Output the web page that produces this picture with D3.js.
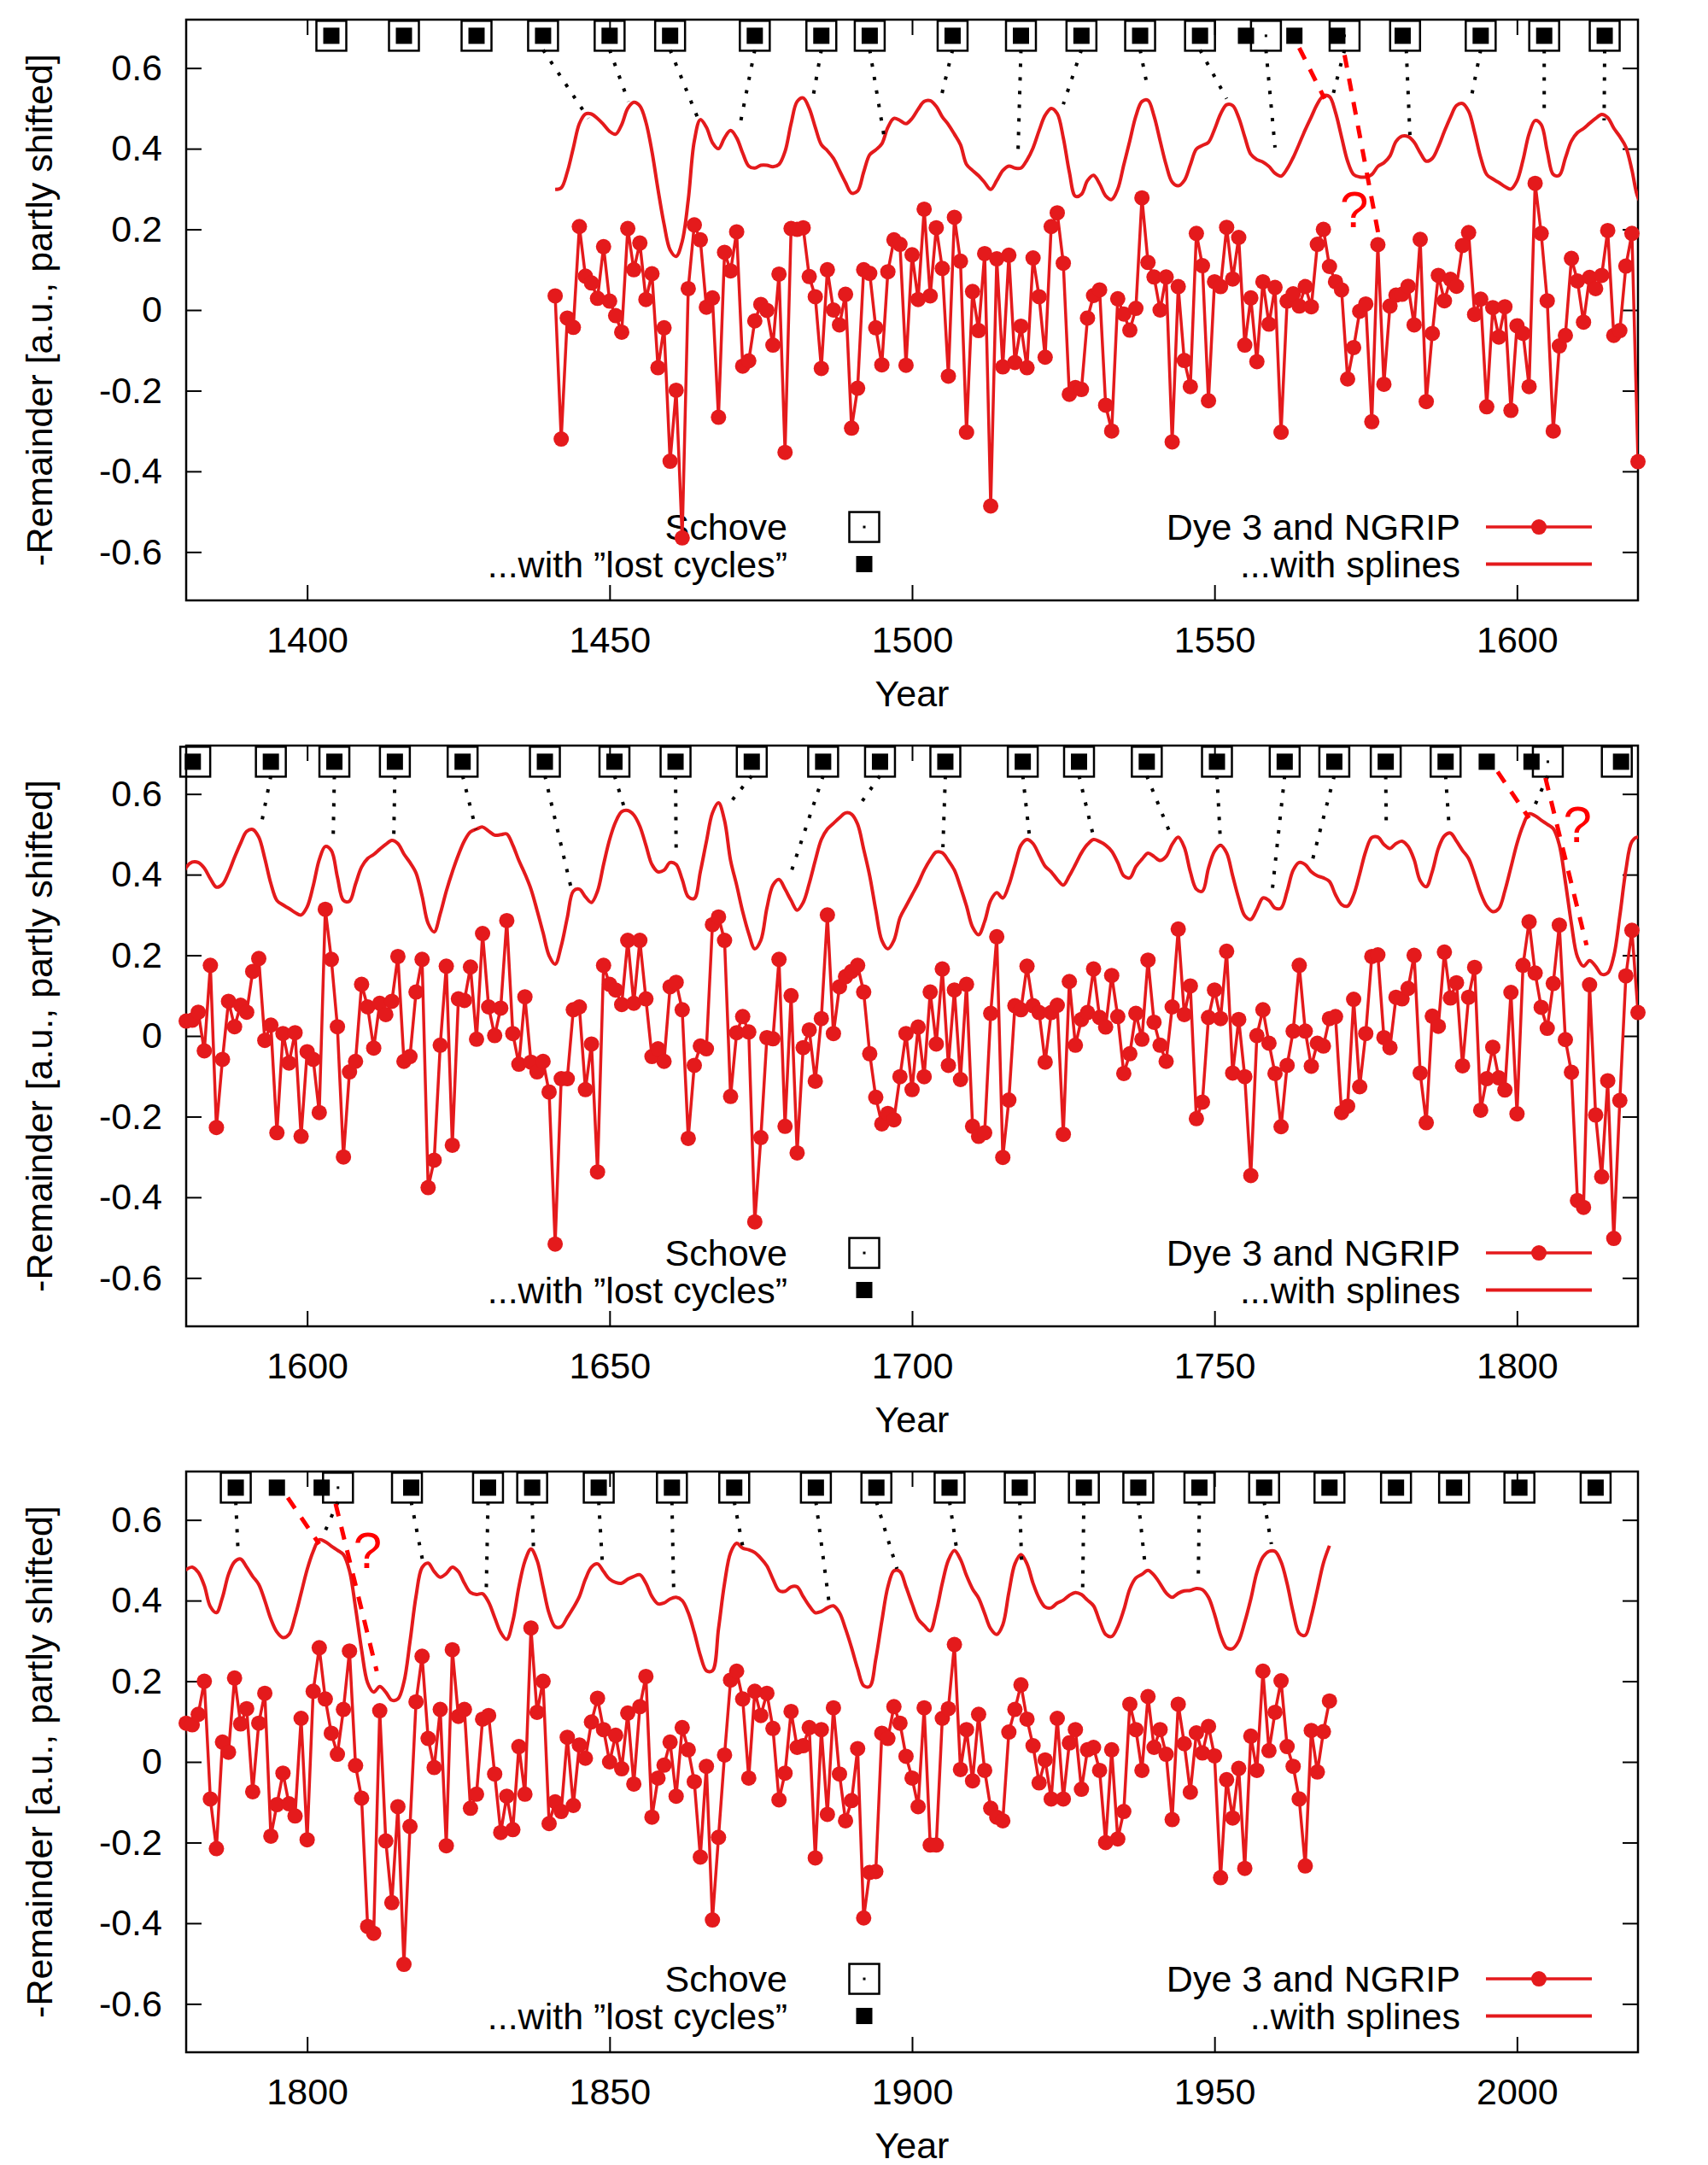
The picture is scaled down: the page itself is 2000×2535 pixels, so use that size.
<!DOCTYPE html>
<html>
<head>
<meta charset="utf-8">
<script src="https://cdn.jsdelivr.net/npm/d3@7"></script>
<style>
  body { margin: 0; background: #fff; }
  svg text { font-family: "Liberation Sans", Arial, Helvetica, sans-serif; }
</style>
</head>
<body>
<div id="chart"></div>
<script>
// yearly values, first value belongs to firstYear
var firstYear = 1441;

// Dye 3 and NGRIP remainder
var remainder = [
  0.035, -0.32, -0.02, -0.043, 0.207, 0.084, 0.067, 0.029, 0.157, 0.022,     // 1441-
  -0.014, -0.055, 0.202, 0.10, 0.166, 0.026, 0.09, -0.143, -0.044, -0.375,   // 1451-
  -0.199, -0.565, 0.053, 0.211, 0.174, 0.007, 0.030, -0.266, 0.143, 0.097,   // 1461-
  0.194, -0.139, -0.126, -0.027, 0.014, -0.001, -0.087, 0.089, -0.353, 0.202,// 1471-
  0.20, 0.204, 0.083, 0.033, -0.145, 0.10, 0.0, -0.037, 0.039, -0.293,       // 1481-
  -0.194, 0.10, 0.091, -0.044, -0.136, 0.095, 0.174, 0.163, -0.137, 0.137,   // 1491-
  0.026, 0.25, 0.035, 0.204, 0.103, -0.164, 0.23, 0.121, -0.303, 0.046,      // 1501-
  -0.051, 0.14, -0.486, 0.127, -0.141, 0.136, -0.13, -0.04, -0.143, 0.129,   // 1511-
  0.033, -0.117, 0.207, 0.241, 0.116, -0.209, -0.192, -0.197, -0.02, 0.036,  // 1521-
  0.05, -0.236, -0.30, 0.028, -0.01, -0.05, 0.004, 0.278, 0.118, 0.082,      // 1531-
  0.0, 0.082, -0.327, 0.058, -0.125, -0.19, 0.19, 0.11, -0.225, 0.07,        // 1541-
  0.058, 0.205, 0.077, 0.18, -0.087, 0.03, -0.128, 0.07, -0.035, 0.056,      // 1551-
  -0.303, 0.022, 0.04, 0.01, 0.058, 0.008, 0.163, 0.2, 0.108, 0.07,          // 1561-
  0.05, -0.171, -0.093, -0.003, 0.015, -0.277, 0.162, -0.184, 0.01, 0.037,   // 1571-
  0.039, 0.059, -0.037, 0.175, -0.227, -0.058, 0.086, 0.023, 0.076, 0.059,   // 1581-
  0.16, 0.192, -0.011, 0.027, -0.24, 0.006, -0.067, 0.008, -0.249, -0.039,   // 1591-
  -0.058, -0.19, 0.314, 0.19, 0.023, -0.30, -0.089, -0.063, 0.128, 0.072,    // 1601-
  -0.03, 0.081, 0.053, 0.086, 0.197, -0.063, -0.051, 0.109, 0.19, -0.376,    // 1611-
  -0.308, -0.023, 0.173, -0.271, 0.092, 0.088, 0.171, -0.008, 0.254, 0.072,  // 1621-
  0.001, 0.069, 0.286, 0.006, -0.07, 0.097, -0.065, -0.089, -0.063, -0.139,  // 1631-
  -0.516, -0.106, -0.106, 0.065, 0.072, -0.133, -0.02, -0.337, 0.175, 0.128, // 1641-
  0.114, 0.078, 0.237, 0.081, 0.237, 0.092, -0.051, -0.032, -0.063, 0.122,   // 1651-
  0.133, 0.065, -0.254, -0.073, -0.025, -0.032, 0.276, 0.295, 0.237, -0.15,  // 1661-
  0.008, 0.048, 0.01, -0.461, -0.252, -0.004, -0.007, 0.19, -0.224, 0.10,    // 1671-
  -0.29, -0.029, 0.015, -0.112, 0.043, 0.30, 0.006, 0.122, 0.147, 0.16,      // 1681-
  0.175, 0.109, -0.044, -0.152, -0.218, -0.192, -0.208, -0.101, 0.006, -0.133, // 1691-
  0.022, -0.101, 0.109, -0.02, 0.166, -0.073, 0.114, -0.108, 0.128, -0.224,  // 1701-
  -0.249, -0.24, 0.056, 0.246, -0.301, -0.159, 0.075, 0.065, 0.173, 0.075,   // 1711-
  0.058, -0.065, 0.058, 0.076, -0.244, 0.135, -0.023, 0.041, 0.058, 0.166,   // 1721-
  0.046, 0.022, 0.15, 0.048, -0.093, -0.044, 0.056, -0.008, 0.188, 0.034,    // 1731-
  -0.023, -0.063, 0.072, 0.265, 0.053, 0.124, -0.205, -0.164, 0.046, 0.114,  // 1741-
  0.043, 0.21, -0.092, 0.041, -0.101, -0.346, 0.001, 0.065, -0.018, -0.093,  // 1751-
  -0.225, -0.073, 0.012, 0.175, 0.012, -0.075, -0.018, -0.025, 0.043, 0.048, // 1761-
  -0.19, -0.174, 0.091, -0.126, 0.006, 0.197, 0.201, -0.004, -0.029, 0.096,  // 1771-
  0.092, 0.118, 0.20, -0.092, -0.215, 0.049, 0.024, 0.208, 0.094, 0.132,     // 1781-
  -0.074, 0.096, 0.17, -0.184, -0.106, -0.028, -0.104, -0.134, 0.108, -0.193,// 1791-
  0.175, 0.283, 0.156, 0.071, 0.019, 0.13, 0.275, -0.009, -0.09, -0.408,     // 1801-
  -0.425, 0.127, -0.196, -0.349, -0.111, -0.502, -0.16, 0.149, 0.262, 0.058, // 1811-
  -0.014, 0.13, -0.208, 0.278, 0.113, 0.13, -0.115, -0.08, 0.106, 0.115,     // 1821-
  -0.03, -0.175, -0.085, -0.168, 0.038, -0.08, 0.332, 0.123, 0.20, -0.153,   // 1831-
  -0.099, -0.123, 0.061, -0.108, 0.042, 0.009, 0.099, 0.158, 0.08, 0.0,      // 1841-
  0.066, -0.017, 0.121, -0.055, 0.137, 0.212, -0.137, -0.04, -0.008, 0.049,  // 1851-
  -0.085, 0.085, 0.03, -0.049, -0.236, -0.011, -0.392, -0.187, 0.017, 0.203, // 1861-
  0.225, 0.156, -0.04, 0.175, 0.115, 0.17, 0.083, -0.094, -0.028, 0.125,     // 1871-
  0.036, 0.04, 0.085, -0.238, 0.08, -0.13, 0.134, -0.03, -0.146, -0.096,     // 1881-
  0.033, -0.387, -0.274, -0.272, 0.071, 0.058, 0.137, 0.096, 0.014, -0.04,   // 1891-
  -0.111, 0.134, -0.206, -0.206, 0.108, 0.132, 0.291, -0.019, 0.08, -0.047,  // 1901-
  0.118, -0.021, -0.115, -0.137, -0.146, 0.074, 0.13, 0.191, 0.106, 0.04,    // 1911-
  -0.052, 0.005, -0.092, 0.108, -0.092, 0.047, 0.08, -0.068, 0.03, 0.036,    // 1921-
  -0.021, -0.20, 0.03, -0.191, -0.123, 0.143, 0.08, -0.021, 0.162, 0.036,    // 1931-
  0.08, 0.019, -0.143, 0.143, 0.045, -0.075, 0.072, 0.022, 0.088, 0.015,     // 1941-
  -0.287, -0.044, -0.139, -0.016, -0.264, 0.064, -0.021, 0.225, 0.028, 0.123,// 1951-
  0.201, 0.038, -0.011, -0.092, -0.258, 0.078, -0.025, 0.075, 0.151          // 1961-1969
];

// smoothed curve, shifted upwards
var splines = [
  0.299, 0.303, 0.342, 0.402, 0.462, 0.486, 0.486, 0.475, 0.46, 0.443,   // 1441-
  0.436, 0.46, 0.50, 0.515, 0.506, 0.466, 0.393, 0.299, 0.213, 0.149,    // 1451-
  0.133, 0.17, 0.273, 0.419, 0.472, 0.453, 0.415, 0.40, 0.427, 0.445,    // 1461-
  0.427, 0.389, 0.357, 0.352, 0.359, 0.359, 0.355, 0.361, 0.393, 0.462,  // 1471-
  0.517, 0.526, 0.50, 0.453, 0.41, 0.395, 0.376, 0.346, 0.316, 0.29,     // 1481-
  0.295, 0.342, 0.385, 0.397, 0.412, 0.453, 0.475, 0.47, 0.462, 0.475,   // 1491-
  0.498, 0.517, 0.519, 0.505, 0.479, 0.46, 0.436, 0.41, 0.361, 0.346,    // 1501-
  0.333, 0.316, 0.299, 0.321, 0.346, 0.357, 0.352, 0.352, 0.372, 0.402,  // 1511-
  0.445, 0.483, 0.50, 0.487, 0.427, 0.342, 0.282, 0.287, 0.321, 0.334,   // 1521-
  0.313, 0.283, 0.274, 0.30, 0.36, 0.42, 0.481, 0.517, 0.52, 0.481,      // 1531-
  0.42, 0.36, 0.317, 0.308, 0.321, 0.36, 0.399, 0.408, 0.416, 0.448,     // 1541-
  0.486, 0.509, 0.507, 0.477, 0.429, 0.386, 0.373, 0.367, 0.356, 0.339,  // 1551-
  0.332, 0.35, 0.378, 0.412, 0.447, 0.479, 0.511, 0.531, 0.529, 0.49,    // 1561-
  0.429, 0.369, 0.336, 0.33, 0.33, 0.336, 0.356, 0.365, 0.382, 0.418,    // 1571-
  0.431, 0.43, 0.416, 0.39, 0.369, 0.376, 0.405, 0.443, 0.478, 0.507,    // 1581-
  0.512, 0.493, 0.44, 0.378, 0.336, 0.325, 0.316, 0.306, 0.30, 0.32,     // 1591-
  0.372, 0.437, 0.47, 0.46, 0.394, 0.336, 0.334, 0.377, 0.419, 0.44,     // 1601-
  0.45, 0.463, 0.475, 0.485, 0.477, 0.451, 0.43, 0.404, 0.347, 0.279,    // 1611-
  0.258, 0.303, 0.359, 0.407, 0.449, 0.484, 0.506, 0.513, 0.518, 0.508,  // 1621-
  0.498, 0.499, 0.501, 0.473, 0.435, 0.402, 0.364, 0.312, 0.256, 0.199,  // 1631-
  0.178, 0.223, 0.293, 0.359, 0.364, 0.345, 0.331, 0.359, 0.425, 0.487,  // 1641-
  0.531, 0.556, 0.559, 0.548, 0.52, 0.473, 0.425, 0.407, 0.411, 0.43,    // 1651-
  0.425, 0.388, 0.345, 0.341, 0.407, 0.482, 0.553, 0.578, 0.534, 0.435,  // 1661-
  0.374, 0.308, 0.254, 0.216, 0.237, 0.317, 0.374, 0.388, 0.364, 0.336,  // 1671-
  0.312, 0.331, 0.378, 0.435, 0.487, 0.513, 0.527, 0.541, 0.553, 0.55,   // 1681-
  0.525, 0.463, 0.397, 0.312, 0.237, 0.216, 0.237, 0.293, 0.322, 0.35,   // 1691-
  0.378, 0.411, 0.437, 0.456, 0.454, 0.435, 0.411, 0.369, 0.322, 0.27,   // 1701-
  0.251, 0.284, 0.336, 0.355, 0.342, 0.374, 0.425, 0.473, 0.487, 0.477,  // 1711-
  0.449, 0.421, 0.407, 0.388, 0.374, 0.397, 0.425, 0.454, 0.475, 0.487,  // 1721-
  0.482, 0.473, 0.458, 0.43, 0.397, 0.392, 0.42, 0.438, 0.453, 0.445,    // 1731-
  0.435, 0.445, 0.475, 0.493, 0.468, 0.407, 0.364, 0.359, 0.416, 0.458,  // 1741-
  0.473, 0.454, 0.397, 0.341, 0.298, 0.289, 0.314, 0.342, 0.336, 0.317,  // 1751-
  0.317, 0.359, 0.411, 0.43, 0.425, 0.407, 0.397, 0.392, 0.383, 0.35,    // 1761-
  0.326, 0.322, 0.35, 0.402, 0.458, 0.492, 0.493, 0.475, 0.465, 0.477,   // 1771-
  0.483, 0.47, 0.437, 0.385, 0.37, 0.408, 0.465, 0.496, 0.503, 0.483,    // 1781-
  0.46, 0.44, 0.40, 0.354, 0.322, 0.308, 0.316, 0.36, 0.418, 0.477,      // 1791-
  0.522, 0.551, 0.546, 0.535, 0.525, 0.514, 0.474, 0.382, 0.278, 0.196,  // 1801-
  0.173, 0.187, 0.173, 0.153, 0.156, 0.198, 0.298, 0.411, 0.482, 0.493,  // 1811-
  0.472, 0.458, 0.467, 0.483, 0.472, 0.443, 0.42, 0.415, 0.417, 0.396,   // 1821-
  0.358, 0.321, 0.304, 0.349, 0.434, 0.498, 0.528, 0.50, 0.434, 0.368,   // 1831-
  0.335, 0.335, 0.358, 0.382, 0.41, 0.453, 0.483, 0.491, 0.472, 0.453,   // 1841-
  0.445, 0.443, 0.453, 0.46, 0.464, 0.443, 0.41, 0.392, 0.394, 0.404,    // 1851-
  0.408, 0.40, 0.37, 0.321, 0.264, 0.226, 0.226, 0.33, 0.443, 0.519,     // 1861-
  0.542, 0.53, 0.526, 0.519, 0.505, 0.486, 0.453, 0.425, 0.423, 0.434,   // 1871-
  0.434, 0.41, 0.387, 0.37, 0.373, 0.382, 0.387, 0.37, 0.33, 0.283,      // 1881-
  0.231, 0.189, 0.187, 0.255, 0.349, 0.434, 0.474, 0.472, 0.434, 0.392,  // 1891-
  0.354, 0.338, 0.325, 0.373, 0.443, 0.50, 0.524, 0.502, 0.462, 0.429,   // 1901-
  0.406, 0.368, 0.33, 0.316, 0.34, 0.42, 0.491, 0.514, 0.491, 0.443,     // 1911-
  0.406, 0.384, 0.382, 0.394, 0.401, 0.413, 0.42, 0.415, 0.401, 0.387,   // 1921-
  0.349, 0.316, 0.311, 0.335, 0.377, 0.429, 0.456, 0.465, 0.475, 0.463,  // 1931-
  0.442, 0.419, 0.408, 0.418, 0.424, 0.425, 0.43, 0.427, 0.408, 0.366,   // 1941-
  0.314, 0.283, 0.281, 0.30, 0.347, 0.404, 0.47, 0.508, 0.522, 0.522,    // 1951-
  0.496, 0.442, 0.371, 0.319, 0.314, 0.361, 0.427, 0.493, 0.536          // 1961-1969
];

// Schove maxima (open squares) and the version with "lost cycles" (filled squares)
var schove = [1404, 1416, 1428, 1439, 1450, 1460, 1474, 1485, 1493, 1506.7, 1518, 1528,
  1537.7, 1547.6, 1558.5, 1571.5, 1581.5, 1594, 1604.5, 1614.5, 1625.7, 1639.3, 1650.8,
  1660.9, 1673.5, 1685.3, 1694.7, 1705.5, 1718.3, 1727.6, 1738.8, 1750.4, 1761.6, 1769.8,
  1778.3, 1788.2, 1805.1, 1816.5, 1829.9, 1837.2, 1848.2, 1860.3, 1870.6, 1884.1, 1894.1,
  1906.2, 1917.8, 1928.4, 1937.4, 1947.5, 1958.2, 1969.0, 1980.0, 1989.6, 2000.4, 2013.0];
var lostCycles = [1404, 1416, 1428, 1439, 1450, 1460, 1474, 1485, 1493, 1506.7, 1518, 1528,
  1537.7, 1547.6, 1555.2, 1563.2, 1570.3, 1581.1, 1594, 1604.5, 1614.5, 1625.7, 1639.3,
  1650.8, 1660.9, 1673.5, 1685.3, 1694.7, 1705.5, 1718.3, 1727.6, 1738.8, 1750.4, 1761.6,
  1769.8, 1778.3, 1788.2, 1795.0, 1802.4, 1817.2, 1829.9, 1837.2, 1848.2, 1860.3, 1870.6,
  1884.1, 1894.1, 1906.2, 1917.8, 1928.4, 1937.4, 1947.5, 1958.2, 1969.0, 1980.0, 1989.6,
  2000.4, 2013.0];

// dotted links: [Schove year, year on curve, value on curve]
var links1 = [[1439, 1446.5, 0.475], [1450, 1453.1, 0.517], [1460, 1464.6, 0.475],
  [1474, 1471.7, 0.47], [1485, 1483.6, 0.526], [1493, 1495.5, 0.419], [1506.7, 1504.7, 0.522],
  [1518, 1517.5, 0.385], [1528, 1525, 0.51], [1537.7, 1539.0, 0.546], [1547.6, 1552.0, 0.524],
  [1558.5, 1560.0, 0.403], [1571.5, 1569.6, 0.535], [1581.7, 1582.3, 0.434],
  [1594, 1592.3, 0.516], [1604.5, 1604.5, 0.49], [1614.5, 1614.4, 0.47]];
var links2 = [[1594, 1592.3, 0.516], [1604.5, 1604.3, 0.49], [1614.5, 1614.3, 0.48],
  [1625.7, 1627.9, 0.512], [1639.3, 1643.6, 0.369], [1650.8, 1652.7, 0.553],
  [1660.9, 1661, 0.456], [1673.5, 1670, 0.58], [1685.3, 1679.6, 0.388], [1694.7, 1690.8, 0.562],
  [1705.5, 1705.1, 0.468], [1718.3, 1719.4, 0.496], [1727.6, 1729.9, 0.50],
  [1738.8, 1743.0, 0.49], [1750.4, 1751, 0.475], [1761.6, 1759.5, 0.355], [1769.8, 1766, 0.425],
  [1778.3, 1778.4, 0.51], [1788.2, 1788.8, 0.515], [1805.1, 1802.6, 0.56]];
var links3 = [[1788.2, 1788.6, 0.514], [1805.1, 1802.6, 0.56], [1817.2, 1819.1, 0.498],
  [1829.9, 1829.6, 0.42], [1837.2, 1837.4, 0.533], [1848.2, 1848.8, 0.492],
  [1860.3, 1860.6, 0.42], [1870.6, 1872.2, 0.519], [1884.1, 1886.3, 0.392],
  [1894.1, 1897.5, 0.479], [1906.2, 1907.5, 0.514], [1917.8, 1918.1, 0.498],
  [1928.4, 1928.2, 0.429], [1937.4, 1938.5, 0.49], [1947.5, 1947.3, 0.443],
  [1958.2, 1959.4, 0.54]];

// red dashed guesses: [year0, value0, year1, value1], and the "?" [year, value]
var dashes1 = [[1564, 0.65, 1568.2, 0.524], [1571.5, 0.632, 1577.1, 0.187]];
var dashes2 = [[1796.8, 0.655, 1802, 0.54], [1804.7, 0.64, 1811.5, 0.225]];
var question1 = [1573.1, 0.205];
var question2 = [1810, 0.48];

var yTicks = [-0.6, -0.4, -0.2, 0, 0.2, 0.4, 0.6];
var xRanges = [[1380, 1620], [1580, 1820], [1780, 2020]];
var xTicks = [
  [1400, 1450, 1500, 1550, 1600],
  [1600, 1650, 1700, 1750, 1800],
  [1800, 1850, 1900, 1950, 2000]
];
var splineLabels = ["...with splines", "...with splines", "..with splines"];

var panels = [
  { links: links1, dashes: dashes1, question: question1 },
  { links: links2, dashes: dashes2, question: question2 },
  { links: links3, dashes: dashes2, question: question2 }
];

var width = 2000, height = 2535;
var left = 218, right = 1918, plotH = 680;
var tops = [23, 873, 1723];
var red = "#e41a1c";
var fontSize = 43;

var years = d3.range(firstYear, firstYear + remainder.length);
var series = years.map(function (yr, k) {
  return { year: yr, value: remainder[k], smooth: splines[k] };
});

var svg = d3.select("#chart").append("svg")
  .attr("width", width)
  .attr("height", height)
  .style("background", "#fff");

xRanges.forEach(function (range, i) {
  var top = tops[i];
  var p = panels[i];

  var x = d3.scaleLinear().domain(range).range([left, right]);
  var y = d3.scaleLinear().domain([-0.72, 0.72]).range([top + plotH, top]);

  var g = svg.append("g");

  g.append("clipPath").attr("id", "clip" + i)
    .append("rect")
    .attr("x", left).attr("y", top)
    .attr("width", right - left).attr("height", plotH);

  // axes, ticks pointing inwards and mirrored
  var styleAxis = function (sel) {
    sel.select(".domain").remove();
    sel.attr("font-size", fontSize)
      .attr("font-family", '"Liberation Sans", Arial, Helvetica, sans-serif');
    sel.selectAll(".tick line").attr("stroke-width", 2);
  };

  g.append("g")
    .attr("transform", `translate(${left},0)`)
    .call(d3.axisLeft(y).tickValues(yTicks).tickSize(-18).tickPadding(28)
      .tickFormat((d) => String(d)))
    .call(styleAxis);

  g.append("g")
    .attr("transform", `translate(${right},0)`)
    .call(d3.axisRight(y).tickValues(yTicks).tickSize(-18).tickFormat(""))
    .call(styleAxis);

  g.append("g")
    .attr("transform", `translate(0,${top + plotH})`)
    .call(d3.axisBottom(x).tickValues(xTicks[i]).tickSize(-18).tickPadding(30)
      .tickFormat((d) => d))
    .call(styleAxis);

  g.append("g")
    .attr("transform", `translate(0,${top})`)
    .call(d3.axisTop(x).tickValues(xTicks[i]).tickSize(-18).tickFormat(""))
    .call(styleAxis);

  g.append("rect")
    .attr("x", left).attr("y", top)
    .attr("width", right - left).attr("height", plotH)
    .attr("fill", "none")
    .attr("stroke", "#000")
    .attr("stroke-width", 2.5);

  // axis labels
  g.append("text")
    .attr("transform", `translate(61,${top + plotH / 2}) rotate(-90)`)
    .attr("text-anchor", "middle")
    .attr("font-size", fontSize)
    .text("-Remainder [a.u., partly shifted]");

  g.append("text")
    .attr("x", (left + right) / 2)
    .attr("y", top + plotH + 124)
    .attr("text-anchor", "middle")
    .attr("font-size", fontSize)
    .text("Year");

  // legend (drawn first, the data go over it)
  var row1 = y(-0.538), row2 = y(-0.63);
  var key = g.append("g").attr("font-size", fontSize).attr("text-anchor", "end");
  key.append("text").attr("x", 922).attr("y", row1 + 15).text("Schove");
  key.append("text").attr("x", 922).attr("y", row2 + 15).text("...with \u201Dlost cycles\u201D");
  key.append("text").attr("x", 1710).attr("y", row1 + 15).text("Dye 3 and NGRIP");
  key.append("text").attr("x", 1710).attr("y", row2 + 15).text(splineLabels[i]);

  key.append("rect")
    .attr("x", 1012 - 17.5).attr("y", row1 - 17.5)
    .attr("width", 35).attr("height", 35)
    .attr("fill", "none").attr("stroke", "#000").attr("stroke-width", 2.5);
  key.append("rect")
    .attr("x", 1012 - 1.5).attr("y", row1 - 1.5)
    .attr("width", 3).attr("height", 3).attr("fill", "#000");
  key.append("rect")
    .attr("x", 1012 - 9.5).attr("y", row2 - 9.5)
    .attr("width", 19).attr("height", 19).attr("fill", "#000");

  key.append("line")
    .attr("x1", 1740).attr("x2", 1864).attr("y1", row1).attr("y2", row1)
    .attr("stroke", red).attr("stroke-width", 3.5);
  key.append("circle")
    .attr("cx", 1802).attr("cy", row1).attr("r", 9).attr("fill", red);
  key.append("line")
    .attr("x1", 1740).attr("x2", 1864).attr("y1", row2).attr("y2", row2)
    .attr("stroke", red).attr("stroke-width", 4);

  var inside = function (d) { return d.year >= range[0] && d.year <= range[1]; };
  var clipped = g.append("g").attr("clip-path", `url(#clip${i})`);

  // smoothed curve
  var smoothLine = d3.line()
    .curve(d3.curveCatmullRom)
    .x((d) => x(d.year))
    .y((d) => y(d.smooth));

  clipped.append("path")
    .datum(series)
    .attr("fill", "none")
    .attr("stroke", red)
    .attr("stroke-width", 4)
    .attr("d", smoothLine);

  // data line with dots
  var dataLine = d3.line()
    .x((d) => x(d.year))
    .y((d) => y(d.value));

  clipped.append("path")
    .datum(series)
    .attr("fill", "none")
    .attr("stroke", red)
    .attr("stroke-width", 3.5)
    .attr("d", dataLine);

  g.append("g")
    .attr("fill", red)
    .selectAll("circle")
    .data(series.filter(inside))
    .join("circle")
    .attr("cx", (d) => x(d.year))
    .attr("cy", (d) => y(d.value))
    .attr("r", 9);

  // dotted links from the Schove dates to the curve
  clipped.append("g")
    .selectAll("line")
    .data(p.links)
    .join("line")
    .attr("x1", (d) => x(d[0]))
    .attr("y1", y(0.645))
    .attr("x2", (d) => x(d[1]))
    .attr("y2", (d) => y(d[2]))
    .attr("stroke", "#000")
    .attr("stroke-width", 4)
    .attr("stroke-dasharray", "4 12");

  // red dashed lines and question mark
  clipped.append("g")
    .selectAll("line")
    .data(p.dashes)
    .join("line")
    .attr("x1", (d) => x(d[0]))
    .attr("y1", (d) => y(d[1]))
    .attr("x2", (d) => x(d[2]))
    .attr("y2", (d) => y(d[3]))
    .attr("stroke", "#ff0000")
    .attr("stroke-width", 5)
    .attr("stroke-dasharray", "15 13");

  g.append("text")
    .attr("x", x(p.question[0]))
    .attr("y", y(p.question[1]))
    .attr("text-anchor", "middle")
    .attr("font-family", '"Liberation Serif", "Times New Roman", serif')
    .attr("font-size", 60)
    .attr("fill", "#ff0000")
    .text("?");

  // Schove markers along the top
  var my = y(0.68);
  var inRange = (d) => d >= range[0] && d <= range[1];
  var markers = g.append("g");
  markers.selectAll("rect.open")
    .data(schove.filter(inRange))
    .join("rect")
    .attr("class", "open")
    .attr("x", (d) => x(d) - 17.5)
    .attr("y", my - 17.5)
    .attr("width", 35)
    .attr("height", 35)
    .attr("fill", "none")
    .attr("stroke", "#000")
    .attr("stroke-width", 2.5);
  markers.selectAll("rect.dot")
    .data(schove.filter(inRange))
    .join("rect")
    .attr("class", "dot")
    .attr("x", (d) => x(d) - 1.5)
    .attr("y", my - 1.5)
    .attr("width", 3)
    .attr("height", 3)
    .attr("fill", "#000");
  markers.selectAll("rect.lost")
    .data(lostCycles.filter(inRange))
    .join("rect")
    .attr("class", "lost")
    .attr("x", (d) => x(d) - 9.5)
    .attr("y", my - 9.5)
    .attr("width", 19)
    .attr("height", 19)
    .attr("fill", "#000");
});
</script>
</body>
</html>
